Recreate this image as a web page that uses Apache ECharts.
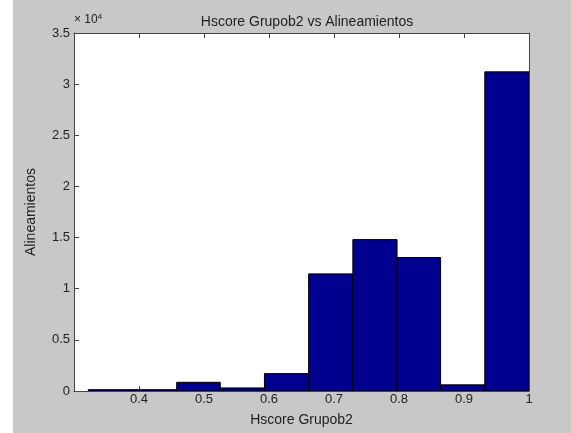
<!DOCTYPE html>
<html><head><meta charset="utf-8">
<script src="https://cdn.jsdelivr.net/npm/echarts@6/dist/echarts.min.js"></script>
<style>html,body{margin:0;padding:0;background:#fff}#c{width:571px;height:433px}</style>
</head><body><div id="c"></div>
<script>
var binEdges = [0.322, 0.390, 0.458, 0.525, 0.593, 0.661, 0.729, 0.797, 0.864, 0.932, 1.0];
var counts = [130, 130, 850, 300, 1700, 11450, 14800, 13050, 600, 31200];
var xTicks = [0.4, 0.5, 0.6, 0.7, 0.8, 0.9, 1];
var yTicks = [0, 0.5, 1, 1.5, 2, 2.5, 3, 3.5];

var data = counts.map(function (c, i) { return [binEdges[i], binEdges[i + 1], c]; });
var font = 'Liberation Sans, Arial, sans-serif';
var txt = '#222';
var axLine = {show: true, onZero: false, lineStyle: {color: '#444', width: 1}};
var tick = {show: true, inside: true, length: 5, lineStyle: {color: '#444'}};
var chart = echarts.init(document.getElementById('c'));
chart.setOption({
  backgroundColor: 'transparent',
  animation: false,
  graphic: [
    {type: 'rect', left: 13, top: 0, shape: {width: 558, height: 433}, style: {fill: '#c8c8c8'}, z: -10},
    {type: 'text', left: 74, top: 13, style: {rich: {a: {fontSize: 12, fill: txt, fontFamily: font}, b: {fontSize: 8, fill: txt, fontFamily: font, verticalAlign: 'top', padding: [0, 0, 6, 0]}}, text: '{a|× 10}{b|4}'}}
  ],
  title: {text: 'Hscore Grupob2 vs Alineamientos', left: 302, top: 10, textAlign: 'center',
    textStyle: {fontSize: 14, fontWeight: 'normal', color: txt, fontFamily: font}},
  grid: {left: 74, right: 42, top: 33, bottom: 42, show: true, backgroundColor: '#fff', borderWidth: 0},
  xAxis: [{
    type: 'value', min: 0.3, max: 1, interval: 0.1, position: 'bottom',
    name: 'Hscore Grupob2', nameLocation: 'middle', nameGap: 22,
    nameTextStyle: {fontSize: 14, color: txt, fontFamily: font},
    axisLine: axLine, splitLine: {show: false}, axisTick: tick,
    axisLabel: {fontSize: 13, color: txt, fontFamily: font, margin: 2,
      formatter: function (v) { var r = +v.toFixed(1); return xTicks.indexOf(r) >= 0 ? String(r) : ''; }}
  }, {
    type: 'value', min: 0.3, max: 1, interval: 0.1, position: 'top',
    axisLine: axLine, splitLine: {show: false}, axisLabel: {show: false}, axisTick: tick
  }],
  yAxis: [{
    type: 'value', min: 0, max: 35000, interval: 5000, position: 'left',
    name: 'Alineamientos', nameLocation: 'middle', nameGap: 36, nameRotate: 90,
    nameTextStyle: {fontSize: 14, color: txt, fontFamily: font},
    axisLine: axLine, splitLine: {show: false}, axisTick: tick,
    axisLabel: {fontSize: 13, color: txt, fontFamily: font, margin: 4,
      formatter: function (v) { var r = +(v / 1e4).toFixed(1); return yTicks.indexOf(r) >= 0 ? String(r) : ''; }}
  }, {
    type: 'value', min: 0, max: 35000, interval: 5000, position: 'right',
    axisLine: axLine, splitLine: {show: false}, axisLabel: {show: false}, axisTick: tick
  }],
  series: [{
    type: 'custom', xAxisIndex: 0, yAxisIndex: 0, clip: true,
    encode: {x: [0, 1], y: 2},
    renderItem: function (params, api) {
      var p0 = api.coord([api.value(0), 0]);
      var p1 = api.coord([api.value(1), api.value(2)]);
      return {type: 'rect', shape: {x: p0[0], y: p1[1], width: p1[0] - p0[0], height: p0[1] - p1[1]},
        style: {fill: '#00008f', stroke: '#000', lineWidth: 1}};
    },
    data: data
  }]
});
</script></body></html>
